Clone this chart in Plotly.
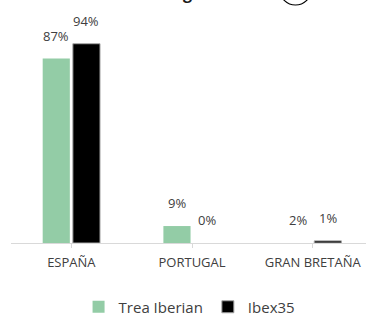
import plotly.graph_objects as go

categories = ["ESPAÑA", "PORTUGAL", "GRAN BRETAÑA"]
trea_values = [87, 8, 0]
ibex_values = [94, 0, 1]
trea_labels = ["87%", "9%", "2%"]
ibex_labels = ["94%", "0%", "1%"]
series_names = ["Trea Iberian", "Ibex35"]
title_text = "Distribución Geográfica"

GREEN = "#93cca6"
BLACK = "#000000"
TEXT = "#404040"
FONT = "Open Sans"

bargap = 0.5
bargroupgap = 0.1
slot = (1 - bargap) / 2
off = slot / 2

fig = go.Figure()
fig.add_trace(go.Bar(name=series_names[0], x=list(range(3)), y=trea_values,
                     marker=dict(color=GREEN, line=dict(width=0))))
fig.add_trace(go.Bar(name=series_names[1], x=list(range(3)), y=ibex_values,
                     marker=dict(color=BLACK,
                                 line=dict(color="#a6a6a6", width=[1 if v > 0 else 0 for v in ibex_values]))))

annotations = []
for i in range(3):
    for vals, labs, sgn in ((trea_values, trea_labels, -1), (ibex_values, ibex_labels, 1)):
        annotations.append(dict(x=i + sgn * off, y=vals[i], xref="x", yref="y",
                                text=labs[i], showarrow=False, yanchor="bottom",
                                yshift=12, font=dict(family=FONT, size=13, color=TEXT)))

annotations.append(dict(x=0.3746, y=1.118, xref="paper", yref="paper", text="<b>" + title_text + "</b>",
                        showarrow=False, yanchor="bottom", xanchor="center",
                        font=dict(family=FONT, size=16, color="#1a1a1a")))

fig.update_layout(
    width=366, height=316,
    margin=dict(l=11, r=0, t=31, b=73, autoexpand=False),
    paper_bgcolor="white", plot_bgcolor="white",
    barmode="group", bargap=bargap, bargroupgap=bargroupgap,
    showlegend=True,
    legend=dict(orientation="h", x=0.503, y=-0.302, xanchor="center", yanchor="middle",
                font=dict(family=FONT, size=15, color=TEXT), traceorder="normal",
                itemwidth=30),
    annotations=annotations,
    shapes=[dict(type="circle", xref="paper", yref="paper", x0=0.7577, x1=0.845,
                 y0=1.1226, y1=1.264, line=dict(color="#000000", width=1.2))],
    xaxis=dict(range=[-0.5, 2.441], tickmode="array", tickvals=list(range(3)), ticktext=categories,
               showline=True, linecolor="#d9d9d9", linewidth=1, ticks="outside",
               tickson="boundaries", ticklen=4, tickcolor="#d9d9d9", showgrid=False,
               zeroline=False, ticklabelstandoff=3,
               tickfont=dict(family=FONT, size=13, color=TEXT), fixedrange=True),
    yaxis=dict(range=[0, 100], visible=False, showgrid=False, zeroline=False, fixedrange=True),
)

fig.write_html("out.html", config=dict(displayModeBar=False),
               post_script="document.body.style.margin='0';document.body.style.overflow='hidden';")
